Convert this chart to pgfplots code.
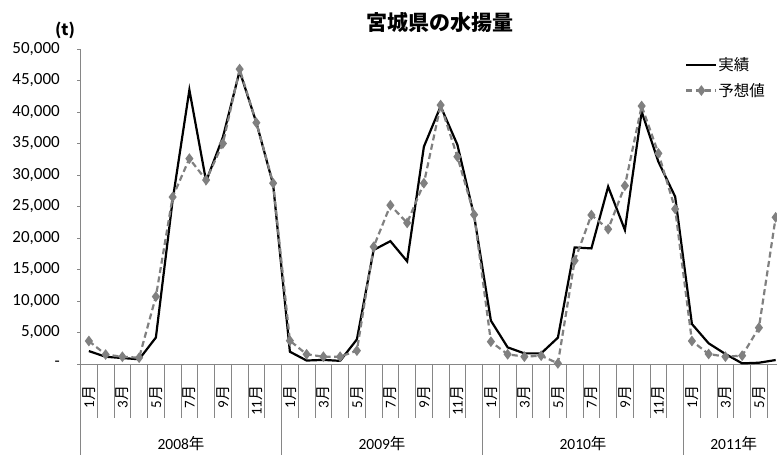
\documentclass[border=0pt]{standalone}
\usepackage{fontspec}
\setmainfont{Carlito}
\newfontfamily\jp{Noto Sans CJK JP}
\usepackage{pgfplots}
\pgfplotsset{compat=1.18}
\definecolor{axisgray}{HTML}{868686}
\definecolor{fcgray}{HTML}{808080}
\newcommand{\M}[1]{#1{\jp 月}}
\begin{document}
\begin{tikzpicture}
\path[use as bounding box] (0,0) rectangle (777pt,455pt);
\begin{axis}[
  at={(80.5pt,91pt)}, anchor=south west,
  scale only axis, width=696.5pt, height=315pt,
  xmin=-0.5, xmax=41.08, ymin=0, ymax=50000,
  axis x line=bottom, axis y line=left,
  axis line style={draw=axisgray, line width=0.8pt, -},
  clip=false,
  scaled y ticks=false,
  xtick={0,2,...,40},
  xticklabels={\M1,\M3,\M5,\M7,\M9,\M{11},\M1,\M3,\M5,\M7,\M9,\M{11},\M1,\M3,\M5,\M7,\M9,\M{11},\M1,\M3,\M5},
  xticklabel style={rotate=90, anchor=east, inner sep=0pt, font=\fontsize{15}{17}\selectfont},
  xticklabel shift=18pt,
  xtick style={draw=none},
  ytick={0,5000,...,50000},
  yticklabels={{-\hspace{-9pt}},{5,000},{10,000},{15,000},{20,000},{25,000},{30,000},{35,000},{40,000},{45,000},{50,000}},
  yticklabel style={anchor=east, inner sep=0pt, xshift=-17pt, font=\fontsize{17}{19}\selectfont},
  ytick style={draw=axisgray, line width=0.8pt},
  tick align=outside, major tick length=3.5pt,
  legend style={at={(0.868,0.976)}, anchor=north west, draw=none, fill=none,
    font=\jp\fontsize{15.5}{17}\selectfont, row sep=9pt, inner sep=0pt,
    nodes={inner sep=1pt}},
  legend cell align=left,
  legend image code/.code={\draw[mark repeat=2,mark phase=2,#1] plot coordinates {(0pt,0pt) (15pt,0pt) (30pt,0pt)};},
]
\addplot[black, line width=2.2pt] coordinates {
(0,2050)(1,1150)(2,950)(3,750)(4,4200)(5,26000)(6,43500)(7,29000)(8,36000)(9,46500)(10,38300)(11,28500)
(12,1950)(13,550)(14,650)(15,500)(16,3900)(17,18100)(18,19500)(19,16300)(20,34500)(21,40900)(22,34800)(23,23500)
(24,6880)(25,2640)(26,1690)(27,1690)(28,4180)(29,18500)(30,18350)(31,28150)(32,21270)(33,40050)(34,32100)(35,26560)
(36,6350)(37,3280)(38,1590)(39,100)(40,200)(41,630)};
\addlegendentry{実績}
\addplot[fcgray, line width=2.2pt, dash pattern=on 6pt off 3.5pt, mark=diamond*, mark size=3.6pt, mark options={solid, fill=fcgray}] coordinates {
(0,3650)(1,1500)(2,1150)(3,1000)(4,10700)(5,26500)(6,32600)(7,29200)(8,35000)(9,46800)(10,38300)(11,28700)
(12,3700)(13,1540)(14,1160)(15,1160)(16,2120)(17,18600)(18,25200)(19,22400)(20,28700)(21,41100)(22,32900)(23,23700)
(24,3540)(25,1540)(26,1160)(27,1320)(28,100)(29,16400)(30,23650)(31,21400)(32,28300)(33,40950)(34,33440)(35,24600)
(36,3650)(37,1590)(38,1160)(39,1320)(40,5760)(41,23280)};
\addlegendentry{予想値}
\pgfplotsinvokeforeach{0.5,1.5,...,40.5}{\draw[axisgray, line width=0.8pt] (axis cs:#1,0) -- ++(0pt,-54pt);}
\pgfplotsinvokeforeach{-0.5,11.5,23.5,35.5}{\draw[axisgray, line width=0.8pt] (axis cs:#1,0) -- ++(0pt,-95pt);}
\node[font=\fontsize{15.5}{17}\selectfont] at ([yshift=-80pt]axis cs:5.5,0) {2008{\jp 年}};
\node[font=\fontsize{15.5}{17}\selectfont] at ([yshift=-80pt]axis cs:17.5,0) {2009{\jp 年}};
\node[font=\fontsize{15.5}{17}\selectfont] at ([yshift=-80pt]axis cs:29.5,0) {2010{\jp 年}};
\node[font=\fontsize{15.5}{17}\selectfont] at ([yshift=-80pt]axis cs:38.5,0) {2011{\jp 年}};
\end{axis}
\node[font=\jp\bfseries\fontsize{21}{23}\selectfont] at (440pt,433pt) {宮城県の水揚量};
\node[font=\jp\bfseries\fontsize{16}{18}\selectfont] at (65pt,425pt) {(t)};
\end{tikzpicture}
\end{document}
